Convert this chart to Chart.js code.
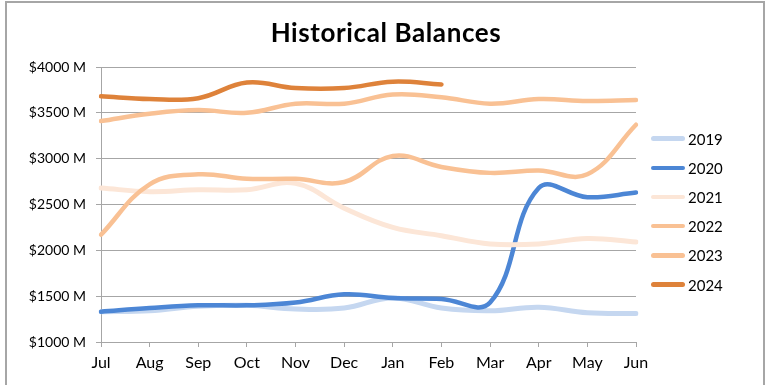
<!DOCTYPE html>
<html>
<head>
<meta charset="utf-8">
<script src="https://cdn.jsdelivr.net/npm/chart.js@4.4.0/dist/chart.umd.min.js"></script>
<style>
  body { margin: 0; background: #fff; }
  #wrap { position: relative; width: 772px; height: 385px; overflow: hidden; }
  #frame { position: absolute; left: 5px; top: 1px; width: 756px; height: 420px;
           border: 2px solid #a6a6a6; border-bottom: none; pointer-events: none; }
  #title { position: absolute; left: 0; top: 19px; width: 772px; text-align: center;
           font-family: Lato, sans-serif; font-weight: bold; font-size: 26px; line-height: 26px;
           letter-spacing: 0.6px; color: #000; }
  #legend { position: absolute; left: 651px; top: 124px; font-family: Lato, sans-serif;
            font-size: 15px; color: #000; }
  .item { height: 29.2px; display: flex; align-items: center; }
  .swatch { width: 34px; height: 4.5px; border-radius: 3px; margin-right: 3px; }
</style>
</head>
<body>
<div id="wrap">
  <canvas id="balances" width="772" height="385"></canvas>
  <div id="frame"></div>
  <div id="title">Historical Balances</div>
  <div id="legend"></div>
</div>
<script>
// fiscal year months, Jul..Jun
const months = ['Jul', 'Aug', 'Sep', 'Oct', 'Nov', 'Dec', 'Jan', 'Feb', 'Mar', 'Apr', 'May', 'Jun'];
const years = ['2019', '2020', '2021', '2022', '2023', '2024'];

// balances in $ millions
const bal2019 = [1330, 1340, 1390, 1400, 1360, 1370, 1480, 1370, 1340, 1380, 1320, 1310];
const bal2020 = [1330, 1370, 1400, 1400, 1430, 1520, 1480, 1470, 1430, 2680, 2580, 2630];
const bal2021 = [2680, 2640, 2660, 2660, 2730, 2460, 2250, 2160, 2070, 2070, 2130, 2090];
const bal2022 = [2170, 2720, 2830, 2780, 2780, 2745, 3030, 2910, 2845, 2870, 2830, 3370];
const bal2023 = [3410, 3490, 3530, 3500, 3600, 3600, 3700, 3670, 3600, 3650, 3630, 3640];
const bal2024 = [3680, 3650, 3660, 3830, 3770, 3770, 3840, 3810];

const yTicks = [1000, 1500, 2000, 2500, 3000, 3500, 4000];

const colors = ['#c5d7f0', '#4c86d5', '#fce6d7', '#f9c194', '#f9c194', '#de823a'];
const widths = [5, 4.5, 5, 4.5, 4.5, 4.5];
const series = [bal2019, bal2020, bal2021, bal2022, bal2023, bal2024];

const gridColor = '#a6a6a6';

const datasets = series.map((vals, i) => ({
  label: years[i],
  data: vals,
  borderColor: colors[i],
  backgroundColor: colors[i],
  borderWidth: widths[i],
  borderCapStyle: 'round',
  borderJoinStyle: 'round',
  pointRadius: 0,
  tension: 0.4,
  fill: false,
  order: series.length - i   // later years on top
}));

const chart = new Chart(document.getElementById('balances'), {
  type: 'line',
  data: { labels: months, datasets: datasets },
  options: {
    responsive: false,
    animation: false,
    layout: { padding: { left: 0, right: 136, top: 67, bottom: 0 } },
    plugins: {
      legend: { display: false },
      tooltip: { enabled: false },
      title: { display: false }
    },
    scales: {
      x: {
        offset: false,
        grid: { drawOnChartArea: false, drawTicks: true, tickLength: 5, color: gridColor },
        border: { color: gridColor },
        ticks: { color: '#000', padding: 6, maxRotation: 0, font: { family: 'Lato', size: 16 } },
        afterFit: (s) => { s.height = 43; }
      },
      y: {
        min: 1000,
        max: 4000,
        afterBuildTicks: (s) => { s.ticks = yTicks.map(v => ({ value: v })); },
        grid: { color: gridColor, tickLength: 5 },
        border: { color: gridColor },
        ticks: {
          color: '#000', padding: 10, font: { family: 'Lato', size: 14 },
          callback: (v) => '$' + v + ' M'
        },
        afterFit: (s) => { s.width = 101; }
      }
    }
  }
});

// html legend, one row per year
const legend = document.getElementById('legend');
chart.data.datasets.forEach(ds => {
  legend.innerHTML += `
    <div class="item">
      <span class="swatch" style="background:${ds.borderColor}"></span>
      <span>${ds.label}</span>
    </div>`;
});
</script>
</body>
</html>
